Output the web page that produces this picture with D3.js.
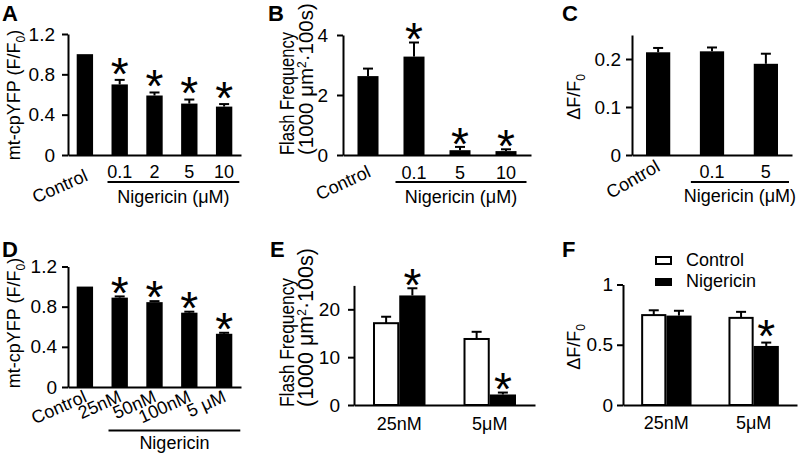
<!DOCTYPE html>
<html><head><meta charset="utf-8">
<script src="https://cdn.jsdelivr.net/npm/d3@7"></script>
<style>
body{margin:0;background:#fff}
svg{display:block}
text{font-family:"Liberation Sans",Arial,Helvetica,sans-serif;fill:#000}
</style>
</head><body>
<svg id="chart" width="800" height="454"></svg>
<script>
// ---------------- DATA ----------------
// Panel A
const aCategories = ["Control","0.1","2","5","10"];
const aValues = [1.0,0.70,0.59,0.51,0.48];
const aErrors = [0,0.045,0.03,0.04,0.025];
const aSignificant = [false,true,true,true,true];
const aTicks = [0,0.4,0.8,1.2];
// Panel B
const bCategories = ["Control","0.1","5","10"];
const bValues = [2.63,3.28,0.16,0.13];
const bErrors = [0.25,0.47,0.11,0.06];
const bSignificant = [false,true,true,true];
const bTicks = [0,2,4];
// Panel C
const cCategories = ["Control","0.1","5"];
const cValues = [0.214,0.216,0.190];
const cErrors = [0.009,0.008,0.021];
const cSignificant = [false,false,false];
const cTicks = [0,0.1,0.2];
// Panel D
const dCategories = ["Control","25nM","50nM","100nM","5 μM"];
const dValues = [1.0,0.89,0.845,0.74,0.53];
const dErrors = [0,0.012,0.01,0.01,0.01];
const dSignificant = [false,true,true,true,true];
const dTicks = [0,0.4,0.8,1.2];
// Panel E
const eGroups = ["25nM","5μM"];
const eControl = [17.1,13.8];
const eControlErr = [1.35,1.5];
const eNigericin = [22.9,2.2];
const eNigericinErr = [1.5,0.4];
const eSignificant = [true,true];
const eTicks = [0,10,20];
// Panel F
const fGroups = ["25nM","5μM"];
const fControl = [0.746,0.723];
const fControlErr = [0.04,0.05];
const fNigericin = [0.742,0.49];
const fNigericinErr = [0.04,0.028];
const fSignificant = [false,true];
const fTicks = [0,0.5,1];
const seriesNames = ["Control","Nigericin"];

// ---------------- DRAWING ----------------
const svg = d3.select("#chart");
const FS = 18;
const TICK_FS = 19;
const STAR_FS = 46;

function richText(sel, parts){
  let shift = 0;
  parts.forEach(p=>{
    const target = p.sub ? 5 : (p.sup ? -7 : 0);
    const ts = sel.append("tspan").text(p.t).attr("dy", target - shift);
    if (p.sub || p.sup) ts.attr("font-size", 12);
    shift = target;
  });
}

function yAxis(g, y, left, ticks, fmt, pad){
  const ax = g.append("g").attr("transform",`translate(${left},0)`)
    .call(d3.axisLeft(y).tickValues(ticks).tickFormat(fmt).tickSize(6).tickSizeOuter(0).tickPadding(pad));
  ax.select(".domain").attr("stroke","#000").attr("stroke-width",2);
  ax.selectAll(".tick line").attr("stroke","#000").attr("stroke-width",2);
  ax.selectAll(".tick text").attr("font-size",TICK_FS).attr("font-family",null).attr("fill","#000");
}
function xAxisLine(g, x, base){
  const ax = g.append("g").attr("transform",`translate(0,${base})`)
    .call(d3.axisBottom(x).tickSize(0).tickSizeOuter(0).tickFormat(()=>""));
  ax.select(".domain").attr("stroke","#000").attr("stroke-width",2);
  ax.selectAll(".tick").remove();
}
function errorBar(g, cx, yTop, yBar){
  g.append("line").attr("x1",cx).attr("x2",cx).attr("y1",yBar).attr("y2",yTop).attr("stroke","#000").attr("stroke-width",2);
  g.append("line").attr("x1",cx-5).attr("x2",cx+5).attr("y1",yTop).attr("y2",yTop).attr("stroke","#000").attr("stroke-width",2);
}
function star(g, cx, cy){
  g.append("text").attr("x",cx).attr("y",cy+0.58*STAR_FS).attr("text-anchor","middle").attr("font-size",STAR_FS).text("*");
}
function letter(txt, x, y){
  svg.append("text").attr("x",x).attr("y",y).attr("font-size",22).attr("font-weight","bold").text(txt);
}
function yLabel(x, y, parts, anchor, size, len){
  const t = svg.append("text").attr("transform",`translate(${x},${y}) rotate(-90)`)
    .attr("text-anchor",anchor||"middle").attr("font-size",size||FS);
  if (len) t.attr("textLength",len).attr("lengthAdjust","spacingAndGlyphs");
  richText(t, parts);
}

function simplePanel(cfg){
  const g = svg.append("g");
  const x = d3.scaleBand().domain(cfg.categories).range([cfg.left,cfg.right]).paddingInner(cfg.pi).paddingOuter(cfg.po);
  const y = d3.scaleLinear().domain([0,cfg.yMax]).range([cfg.bottom,cfg.top]);
  const bw = x.bandwidth();
  cfg.categories.forEach((c,i)=>{
    const v = cfg.values[i], e = cfg.errors[i];
    g.append("rect").attr("x",x(c)).attr("y",y(v)).attr("width",bw).attr("height",y(0)-y(v)).attr("fill","#000");
    const cx = x(c)+bw/2;
    if (e>0) errorBar(g, cx, y(v+e), y(v));
    if (cfg.sig[i]) star(g, cx, y(v+e)-cfg.gap);
    if (i===0 || cfg.rotateAll){
      g.append("text").attr("text-anchor","end").attr("font-size",FS)
        .attr("transform",`translate(${cx+cfg.rdx},${cfg.bottom+cfg.rdy}) rotate(${-cfg.angle})`).text(c);
    } else {
      g.append("text").attr("x",cx).attr("y",cfg.labelY).attr("text-anchor","middle").attr("font-size",FS).text(c);
    }
  });
  yAxis(g, y, cfg.left, cfg.ticks, cfg.fmt, cfg.pad);
  xAxisLine(g, x, cfg.bottom);
  const c1 = cfg.categories[1], cN = cfg.categories[cfg.categories.length-1];
  const gx1 = x(c1)-cfg.lpad, gx2 = x(cN)+bw+cfg.rpad;
  g.append("line").attr("x1",gx1).attr("x2",gx2).attr("y1",cfg.lineY).attr("y2",cfg.lineY).attr("stroke","#000").attr("stroke-width",2);
  g.append("text").attr("x",(gx1+gx2)/2).attr("y",cfg.groupY).attr("text-anchor","middle").attr("font-size",FS).text(cfg.groupLabel);
}

function groupedPanel(cfg){
  const g = svg.append("g");
  const x = d3.scaleBand().domain(cfg.groups).range([cfg.left,cfg.right]).paddingInner(cfg.pi).paddingOuter(cfg.po);
  const xs = d3.scaleBand().domain(seriesNames).range([0,x.bandwidth()]);
  const y = d3.scaleLinear().domain([0,cfg.yMax]).range([cfg.bottom,cfg.top]);
  const bw = xs.bandwidth();
  cfg.groups.forEach((grp,i)=>{
    [[cfg.control,cfg.controlErr,"#fff"],[cfg.nig,cfg.nigErr,"#000"]].forEach((s,j)=>{
      const v = s[0][i], e = s[1][i];
      const bx = x(grp)+xs(seriesNames[j]);
      const cx = bx+bw/2;
      if (e>0) errorBar(g, cx, y(v+e), y(v));
      g.append("rect").attr("x",bx+(j===0?1:0)).attr("y",y(v)).attr("width",bw-(j===0?2:0)).attr("height",y(0)-y(v))
        .attr("fill",s[2]).attr("stroke","#000").attr("stroke-width",j===0?2:0);
      if (j===1 && cfg.sig[i]) star(g, cx, y(v+e)-cfg.gap);
    });
    g.append("text").attr("x",x(grp)+x.bandwidth()/2).attr("y",cfg.labelY).attr("text-anchor","middle").attr("font-size",FS).text(grp);
  });
  yAxis(g, y, cfg.left, cfg.ticks, cfg.fmt, cfg.pad);
  xAxisLine(g, x, cfg.bottom);
}

const fmtAuto = d=>d===0?"0":String(d);

simplePanel({categories:aCategories,values:aValues,errors:aErrors,sig:aSignificant,ticks:aTicks,fmt:fmtAuto,
  left:68,right:241,bottom:155,top:34,yMax:1.2,pi:0.53,po:0.25,pad:7,gap:17,
  angle:24,rdx:4,rdy:25,labelY:178,lineY:182,lpad:4,rpad:7,groupY:203,groupLabel:"Nigericin (μM)",rotateAll:false});
simplePanel({categories:bCategories,values:bValues,errors:bErrors,sig:bSignificant,ticks:bTicks,fmt:fmtAuto,
  left:343,right:531,bottom:155,top:35,yMax:4,pi:0.543,po:0.315,pad:9,gap:14,
  angle:25,rdx:4,rdy:21,labelY:179,lineY:182,lpad:8,rpad:10,groupY:203,groupLabel:"Nigericin (μM)",rotateAll:false});
simplePanel({categories:cCategories,values:cValues,errors:cErrors,sig:cSignificant,ticks:cTicks,fmt:fmtAuto,
  left:632,right:792,bottom:155,top:35,yMax:0.25,pi:0.55,po:0.26,pad:5,gap:14,
  angle:30,rdx:3,rdy:15,labelY:178,lineY:182,lpad:9,rpad:11,groupY:202,groupLabel:"Nigericin (μM)",rotateAll:false});
simplePanel({categories:dCategories,values:dValues,errors:dErrors,sig:dSignificant,ticks:dTicks,fmt:fmtAuto,
  left:68,right:241,bottom:387,top:266.5,yMax:1.2,pi:0.53,po:0.25,pad:5,gap:14.5,
  angle:24,rdx:3,rdy:14,labelY:0,lineY:430.5,lpad:3,rpad:8,groupY:449,groupLabel:"Nigericin",rotateAll:true});
groupedPanel({groups:eGroups,control:eControl,controlErr:eControlErr,nig:eNigericin,nigErr:eNigericinErr,sig:eSignificant,
  ticks:eTicks,fmt:fmtAuto,left:354,right:535,bottom:405,top:285.4,yMax:25,pi:0.42,po:0.21,pad:8,gap:14,labelY:430});
groupedPanel({groups:fGroups,control:fControl,controlErr:fControlErr,nig:fNigericin,nigErr:fNigericinErr,sig:fSignificant,
  ticks:fTicks,fmt:fmtAuto,left:623,right:797,bottom:405,top:284.5,yMax:1,pi:0.423,po:0.208,pad:4,gap:17,labelY:429});

// Legend (panel F)
svg.append("rect").attr("x",656).attr("y",257).attr("width",15).attr("height",7).attr("fill","#fff").attr("stroke","#000").attr("stroke-width",2);
svg.append("rect").attr("x",655).attr("y",278).attr("width",17).attr("height",8).attr("fill","#000");
svg.append("text").attr("x",686).attr("y",266).attr("font-size",FS).text(seriesNames[0]);
svg.append("text").attr("x",686).attr("y",287).attr("font-size",FS).text(seriesNames[1]);

// Y labels
yLabel(20,95,[{t:"mt-cpYFP (F/F"},{t:"0",sub:true},{t:")"}]);
yLabel(20,323,[{t:"mt-cpYFP (F/F"},{t:"0",sub:true},{t:")"}]);
yLabel(294,155,[{t:"Flash Frequency"}],"start",19.5,123);
yLabel(313,155,[{t:"(1000 μm"},{t:"2",sup:true},{t:"·100s)"}],"start",20.5);
yLabel(294,407,[{t:"Flash Frequency"}],"start",20,129);
yLabel(313,407,[{t:"(1000 μm"},{t:"2",sup:true},{t:"·100s)"}],"start",21.5);
yLabel(580,97,[{t:"ΔF/F"},{t:"0",sub:true}]);
yLabel(580,347,[{t:"ΔF/F"},{t:"0",sub:true}]);

// Panel letters
letter("A",2,21); letter("B",268,21); letter("C",562,21);
letter("D",2,257); letter("E",270,257); letter("F",562,257);
</script>
</body></html>
